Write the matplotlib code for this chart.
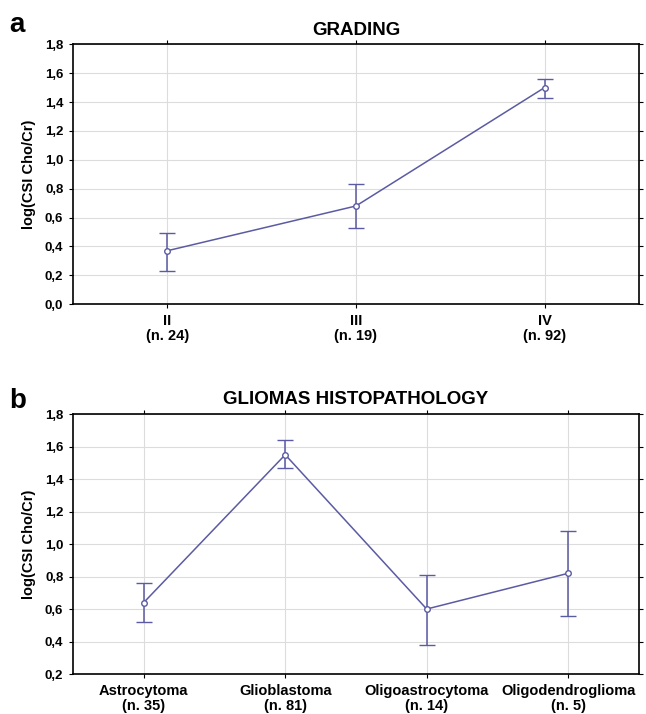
import numpy as np
import matplotlib.pyplot as plt

# panel a: grading
grade_labels = ['II\n(n. 24)', 'III\n(n. 19)', 'IV\n(n. 92)']
grade_mean = [0.37, 0.68, 1.50]
grade_low = [0.23, 0.53, 1.43]
grade_high = [0.49, 0.83, 1.56]

# panel b: histopathology
histo_labels = ['Astrocytoma\n(n. 35)', 'Glioblastoma\n(n. 81)',
                'Oligoastrocytoma\n(n. 14)', 'Oligodendroglioma\n(n. 5)']
histo_mean = [0.64, 1.55, 0.60, 0.82]
histo_low = [0.52, 1.47, 0.38, 0.56]
histo_high = [0.76, 1.64, 0.81, 1.08]

plt.rcParams['font.family'] = ['Liberation Sans', 'DejaVu Sans']
plt.rcParams['font.weight'] = 'bold'
col = '#5b5ba3'

fig = plt.figure(figsize=(6.46, 7.14), dpi=100)
ax_a = fig.add_axes([0.113, 0.574, 0.876, 0.364])
ax_b = fig.add_axes([0.113, 0.056, 0.876, 0.364])


def draw(ax, labels, mean, low, high, title, ylim, yticks):
    x = np.arange(len(labels))
    m = np.array(mean)
    err = [m - np.array(low), np.array(high) - m]
    ax.errorbar(x, m, yerr=err, color=col, lw=1.1, capsize=6, capthick=1.1,
                elinewidth=1.1, marker='o', ms=4, mfc='white', mec=col, mew=1, zorder=3)
    ax.set_xlim(-0.5, len(labels) - 0.5)
    ax.set_ylim(*ylim)
    ax.set_xticks(x)
    ax.set_xticklabels(labels, fontsize=10.5, fontweight='bold', linespacing=1.1)
    ax.set_yticks(yticks)
    ax.set_yticklabels(['{:.1f}'.format(v).replace('.', ',') for v in yticks],
                       fontsize=9.5, fontweight='bold')
    ax.grid(True, color='#dcdcdc', lw=0.8)
    ax.set_axisbelow(True)
    ax.set_ylabel('log(CSI Cho/Cr)', fontsize=10.5, fontweight='bold', labelpad=6)
    ax.set_title(title, fontsize=13.5, fontweight='bold', pad=7)
    ax.tick_params(length=3, width=0.8, top=True, right=True, pad=4)
    for s in ax.spines.values():
        s.set_linewidth(1.2)


draw(ax_a, grade_labels, grade_mean, grade_low, grade_high, 'GRADING',
     (0, 1.8), np.arange(0, 1.81, 0.2))
draw(ax_b, histo_labels, histo_mean, histo_low, histo_high, 'GLIOMAS HISTOPATHOLOGY',
     (0.2, 1.8), np.arange(0.2, 1.81, 0.2))

fig.text(0.015, 0.955, 'a', fontsize=20, fontweight='bold')
fig.text(0.015, 0.429, 'b', fontsize=20, fontweight='bold')

fig.savefig('out.png', dpi=100)
